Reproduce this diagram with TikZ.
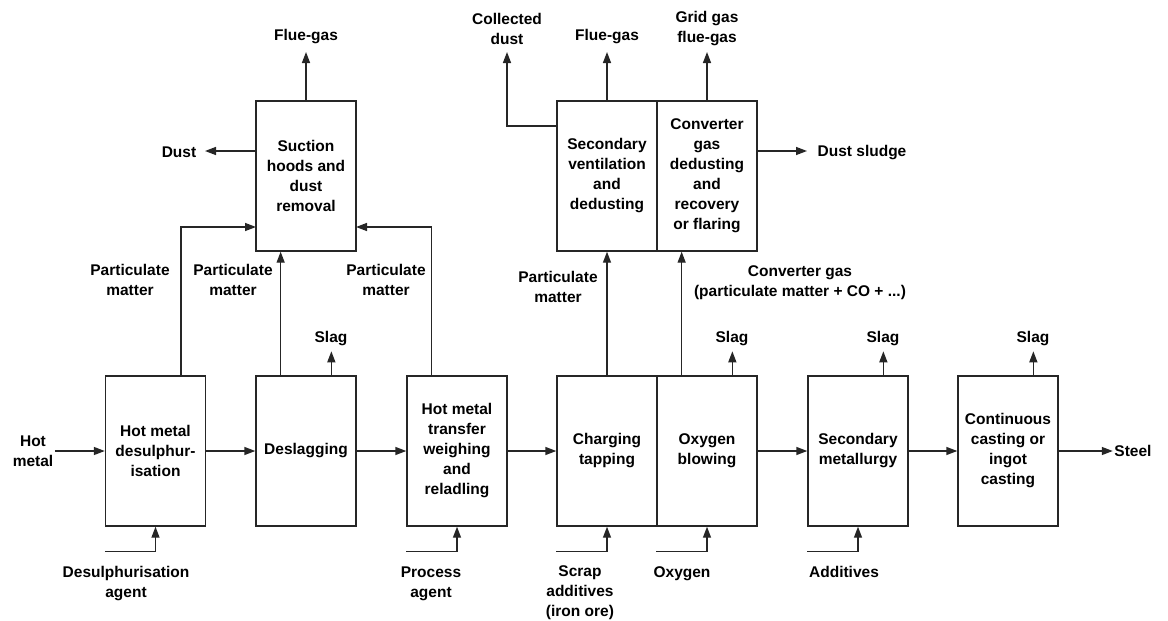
\documentclass[tikz,border=0pt]{standalone}
\usepackage{fontspec}
\setmainfont{Liberation Sans}
\usetikzlibrary{arrows.meta}
\usetikzlibrary{positioning}
\usetikzlibrary{calc}

\begin{document}
\begin{tikzpicture}[x=1pt,y=-1pt,font=\fontsize{15.5}{20}\selectfont\bfseries,
  line width=1.4pt, color=black!85, text=black, >={Triangle[length=11pt,width=8pt]}]
\tikzstyle{block}=[draw, minimum width=100pt, minimum height=150pt, align=center, inner sep=0pt]
\tikzstyle{lbl}=[align=center, inner sep=1pt]
\useasboundingbox (0,0) rectangle (1168,621);

% main process line
\node [block] (desulph) at (155.5,451) {Hot metal\\desulphur-\\isation};
\node [block] (deslag) at (306,451) {Deslagging};
\node [block] (transfer) at (457,451) {Hot metal\\transfer\\weighing\\and\\reladling};
\node [block] (charging) at (607,451) {Charging\\tapping};
\node [block] (oxygen) at (707,451) {Oxygen\\blowing};
\node [block] (secmet) at (858,451) {Secondary\\metallurgy};
\node [block] (contcast) at (1008,451) {Continuous\\casting or\\ingot\\casting};

% gas treatment
\node [block] (suction) at (306,176) {Suction\\hoods and\\dust\\removal};
\node [block] (secvent) at (607,176) {Secondary\\ventilation\\and\\dedusting};
\node [block] (convgas) at (707,176) {Converter\\gas\\dedusting\\and\\recovery\\or flaring};

% labels
\node [lbl] (hotmetal) at (33,451) {Hot\\metal};
\node [lbl] (steel) at (1133,451) {Steel};
\node [lbl] (dust) at (179,152) {Dust};
\node [lbl] (fluegasA) at (306,37) {Flue-gas};
\node [lbl] (pmA) at (130,280) {Particulate\\matter};
\node [lbl] (pmB) at (233,280) {Particulate\\matter};
\node [lbl] (pmC) at (386,280) {Particulate\\matter};
\node [lbl] (slagA) at (331,339) {Slag};
\node [lbl] (coldust) at (507,29) {Collected\\dust};
\node [lbl] (fluegasB) at (607,37) {Flue-gas};
\node [lbl] (gridgas) at (707,29) {Grid gas\\flue-gas};
\node [lbl] (dustsludge) at (862,153) {Dust sludge};
\node [lbl] (pmD) at (558,287) {Particulate\\matter};
\node [lbl] (convlbl) at (800,283) {Converter gas\\(particulate matter + CO + ...)};
\node [lbl] (slagB) at (732,339) {Slag};
\node [lbl] (slagC) at (883,339) {Slag};
\node [lbl] (slagD) at (1033,339) {Slag};
\node [lbl] (desagent) at (126,584) {Desulphurisation\\agent};
\node [lbl] (procagent) at (431,584) {Process\\agent};
\node [lbl] (scrap) at (580,593) {Scrap\\additives\\(iron ore)};
\node [lbl] (oxy) at (682,574) {Oxygen};
\node [lbl] (additives) at (844,572) {Additives};

% free ends
\coordinate (fgAend) at (306,52);
\coordinate (dustend) at (205,151);
\coordinate (suckL) at (256,227);
\coordinate (suckR) at (356,227);
\coordinate (cdend) at (507,52);
\coordinate (fgBend) at (607,52);
\coordinate (ggend) at (707,52);
\coordinate (dsend) at (807,151);

% flow
\draw [->] (hotmetal) -- (desulph);
\draw [->] (desulph) -- (deslag);
\draw [->] (deslag) -- (transfer);
\draw [->] (transfer) -- (charging);
\draw [->] (oxygen) -- (secmet);
\draw [->] (secmet) -- (contcast);
\draw [->] (contcast) -- (steel);

% to and from the suction hoods
\draw [->] ($(desulph.north west)!0.75!(desulph.north east)$) |- (suckL);
\draw [->] ($(deslag.north west)!0.25!(deslag.north east)$) -- ($(suction.south west)!0.25!(suction.south east)$);
\draw [->] ($(transfer.north west)!0.25!(transfer.north east)$) |- (suckR);
\draw [->] (suction.north) -- (fgAend);
\draw [->] (suction.west |- dustend) -- (dustend);

% converter gas side
\draw [->] (charging.north) -- (secvent.south);
\draw [->] ($(oxygen.north west)!0.25!(oxygen.north east)$) -- ($(convgas.south west)!0.25!(convgas.south east)$);
\draw [->] ($(secvent.north west)!0.17!(secvent.south west)$) -| (cdend);
\draw [->] (secvent.north) -- (fgBend);
\draw [->] (convgas.north) -- (ggend);
\draw [->] (convgas.east |- dsend) -- (dsend);

% slag
\draw [->] ($(deslag.north west)!0.75!(deslag.north east)$) -- +(0,-24);
\draw [->] ($(oxygen.north west)!0.75!(oxygen.north east)$) -- +(0,-24);
\draw [->] ($(secmet.north west)!0.75!(secmet.north east)$) -- +(0,-24);
\draw [->] ($(contcast.north west)!0.75!(contcast.north east)$) -- +(0,-24);

% inputs from below
\draw [->] ($(desulph.south west)+(0,25)$) -| (desulph.south);
\draw [->] ($(transfer.south west)+(0,25)$) -| (transfer.south);
\draw [->] ($(charging.south west)+(0,25)$) -| (charging.south);
\draw [->] ($(oxygen.south west)+(0,25)$) -| (oxygen.south);
\draw [->] ($(secmet.south west)+(0,25)$) -| (secmet.south);
\end{tikzpicture}
\end{document}
